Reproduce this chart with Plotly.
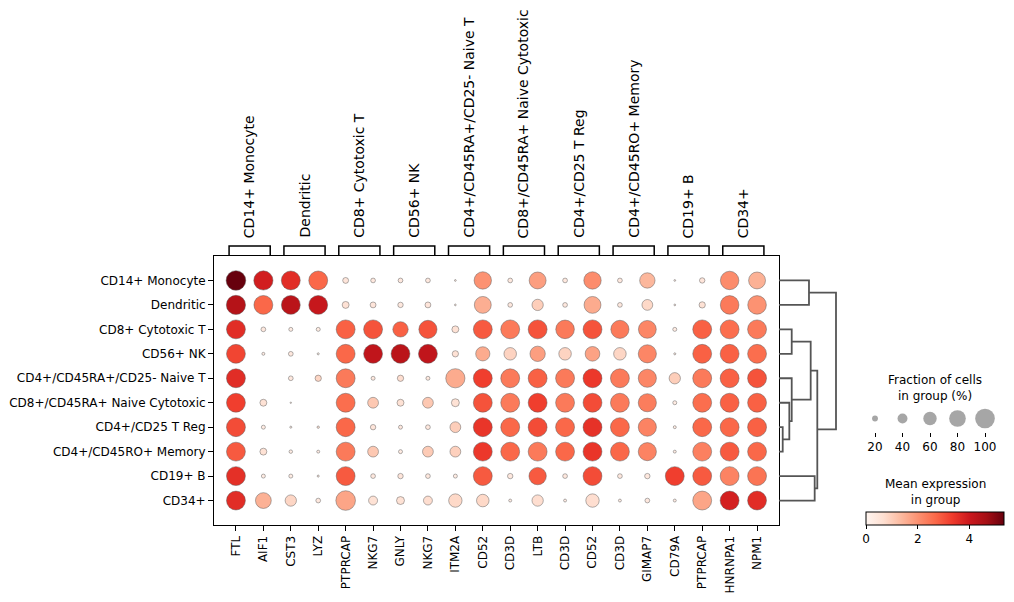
import plotly.graph_objects as go

W, H = 1014, 602

cell_types = ["CD14+ Monocyte", "Dendritic", "CD8+ Cytotoxic T", "CD56+ NK",
              "CD4+/CD45RA+/CD25- Naive T", "CD8+/CD45RA+ Naive Cytotoxic",
              "CD4+/CD25 T Reg", "CD4+/CD45RO+ Memory", "CD19+ B", "CD34+"]

genes = ["FTL", "AIF1", "CST3", "LYZ", "PTPRCAP", "NKG7", "GNLY", "NKG7", "ITM2A", "CD52",
         "CD3D", "LTB", "CD3D", "CD52", "CD3D", "GIMAP7", "CD79A", "PTPRCAP", "HNRNPA1", "NPM1"]

# marker gene groups (label, number of genes)
group_labels = cell_types
group_sizes = [2, 2, 2, 2, 2, 2, 2, 2, 2, 2]

# mean expression in group (rows = cell types, columns = genes)
expr_cd14_mono = [5.34, 3.9, 3.6, 2.7, 0.5, 0.4, 0.4, 0.4, 0.3, 2.0, 0.4, 1.8, 0.4, 2.1, 0.4, 1.4, 0.3, 0.5, 2.1, 1.5]
expr_dendritic = [4.4, 2.7, 4.3, 4.1, 0.6, 0.5, 0.4, 0.5, 0.3, 1.55, 0.4, 1.0, 0.4, 1.6, 0.4, 0.8, 0.3, 0.6, 2.4, 2.0]
expr_cd8_cyto = [3.6, 0.4, 0.3, 0.3, 2.8, 3.0, 2.8, 3.0, 0.6, 2.9, 2.4, 3.0, 2.4, 3.0, 2.4, 2.2, 0.3, 2.8, 2.6, 2.4]
expr_cd56_nk = [3.2, 0.3, 0.4, 0.2, 2.7, 4.2, 4.3, 4.2, 0.6, 1.6, 0.9, 1.8, 0.9, 1.75, 0.85, 2.2, 0.3, 2.8, 2.8, 2.6]
expr_cd4_naive = [3.6, 0.0, 0.4, 0.85, 2.4, 0.4, 0.7, 0.4, 1.6, 3.3, 2.4, 2.8, 2.4, 3.4, 2.4, 2.2, 1.0, 2.4, 2.8, 3.0]
expr_cd8_naive = [3.3, 0.6, 0.3, 0.0, 2.6, 1.1, 0.6, 1.1, 0.6, 3.0, 2.4, 3.3, 2.4, 3.1, 2.4, 2.35, 0.3, 2.6, 2.8, 2.8]
expr_treg = [3.1, 0.3, 0.3, 0.5, 2.7, 0.5, 0.4, 0.4, 1.0, 3.45, 2.7, 3.1, 2.7, 3.5, 2.7, 2.25, 0.3, 2.7, 2.7, 2.8]
expr_memory = [2.9, 0.6, 0.3, 0.3, 2.4, 1.1, 0.3, 1.05, 0.95, 3.4, 2.7, 2.4, 2.7, 3.45, 2.7, 2.25, 0.3, 2.3, 2.9, 2.7]
expr_cd19_b = [3.55, 0.3, 0.3, 0.3, 2.9, 0.4, 0.5, 0.4, 0.3, 2.9, 0.4, 2.9, 0.4, 3.1, 0.4, 0.4, 3.3, 2.9, 2.25, 2.5]
expr_cd34 = [3.6, 1.5, 0.85, 0.4, 1.7, 0.6, 0.6, 0.7, 0.8, 0.8, 0.3, 0.7, 0.3, 0.7, 0.3, 0.4, 0.3, 1.7, 3.85, 3.6]

# fraction of cells in group expressing the gene
frac_cd14_mono = [1.0, 0.97, 0.95, 0.95, 0.2, 0.15, 0.15, 0.15, 0.04, 0.85, 0.15, 0.82, 0.15, 0.85, 0.15, 0.72, 0.04, 0.18, 0.92, 0.82]
frac_dendritic = [0.97, 0.95, 0.95, 0.95, 0.25, 0.2, 0.18, 0.2, 0.04, 0.82, 0.15, 0.48, 0.15, 0.82, 0.15, 0.45, 0.04, 0.22, 0.93, 0.93]
frac_cd8_cyto = [0.95, 0.15, 0.12, 0.12, 0.95, 0.95, 0.72, 0.9, 0.25, 0.95, 0.95, 0.95, 0.93, 0.95, 0.9, 0.88, 0.12, 0.95, 0.95, 0.95]
frac_cd56_nk = [0.95, 0.08, 0.15, 0.05, 0.95, 0.95, 0.95, 0.95, 0.22, 0.65, 0.55, 0.72, 0.55, 0.68, 0.55, 0.9, 0.05, 0.95, 0.95, 0.95]
frac_cd4_naive = [0.95, 0.0, 0.15, 0.22, 0.95, 0.12, 0.22, 0.12, 0.97, 0.95, 0.95, 0.95, 0.95, 0.95, 0.95, 0.9, 0.48, 0.95, 0.95, 0.95]
frac_cd8_naive = [0.95, 0.25, 0.03, 0.0, 0.95, 0.45, 0.25, 0.45, 0.3, 0.95, 0.95, 0.95, 0.95, 0.95, 0.95, 0.9, 0.12, 0.95, 0.95, 0.95]
frac_treg = [0.95, 0.12, 0.05, 0.06, 0.95, 0.18, 0.12, 0.15, 0.45, 0.95, 0.95, 0.95, 0.95, 0.95, 0.95, 0.9, 0.08, 0.95, 0.95, 0.95]
frac_memory = [0.95, 0.25, 0.1, 0.08, 0.95, 0.45, 0.12, 0.45, 0.45, 0.95, 0.95, 0.95, 0.95, 0.95, 0.95, 0.9, 0.08, 0.95, 0.95, 0.95]
frac_cd19_b = [0.95, 0.12, 0.12, 0.05, 0.95, 0.15, 0.18, 0.15, 0.12, 0.95, 0.18, 0.85, 0.15, 0.95, 0.15, 0.18, 0.95, 0.95, 0.95, 0.95]
frac_cd34 = [0.95, 0.75, 0.48, 0.15, 1.0, 0.35, 0.3, 0.35, 0.6, 0.55, 0.08, 0.48, 0.08, 0.6, 0.08, 0.15, 0.08, 0.95, 0.95, 0.95]

expr_rows = [expr_cd14_mono, expr_dendritic, expr_cd8_cyto, expr_cd56_nk, expr_cd4_naive,
             expr_cd8_naive, expr_treg, expr_memory, expr_cd19_b, expr_cd34]
frac_rows = [frac_cd14_mono, frac_dendritic, frac_cd8_cyto, frac_cd56_nk, frac_cd4_naive,
             frac_cd8_naive, frac_treg, frac_memory, frac_cd19_b, frac_cd34]

# dendrogram linkage: (left node, right node, relative height); new nodes numbered from 10
linkage = [(6, 7, 0.065), (5, 10, 0.181), (4, 11, 0.223), (2, 3, 0.223), (0, 1, 0.526),
           (13, 12, 0.556), (8, 9, 0.626), (15, 16, 0.672), (14, 17, 1.0)]

legend_fracs = [20, 40, 60, 80, 100]
color_ticks = [0, 2, 4]
expr_max = 5.34

REDS = [[0.0, "#fff5f0"], [0.125, "#fee0d2"], [0.25, "#fcbba1"], [0.375, "#fc9272"],
        [0.5, "#fb6a4a"], [0.625, "#ef3b2c"], [0.75, "#cb181d"], [0.875, "#a50f15"],
        [1.0, "#67000d"]]
FONT = "DejaVu Sans"


def px(x):
    return x / W


def py(y):
    return 1 - y / H


def dot_diam(f):
    # scanpy: area = f**1.5 * 200 pt^2 -> diameter in px at 100 dpi
    return (f ** 1.5 * 200) ** 0.5 * 100 / 72


xs, ys, cs, ss = [], [], [], []
for r, (er, fr) in enumerate(zip(expr_rows, frac_rows)):
    for c, (e, f) in enumerate(zip(er, fr)):
        if f <= 0:
            continue
        xs.append(c)
        ys.append(r)
        cs.append(e)
        ss.append(dot_diam(f))

fig = go.Figure()
fig.add_trace(go.Scatter(
    x=xs, y=ys, mode="markers", showlegend=False, hoverinfo="skip",
    marker=dict(size=ss, sizemode="diameter", color=cs, colorscale=REDS,
                cmin=0, cmax=expr_max, opacity=1,
                line=dict(color="rgba(90,90,90,0.8)", width=0.6),
                showscale=True,
                colorbar=dict(orientation="h", x=px(935), xanchor="center",
                              len=138 / W, lenmode="fraction",
                              thickness=13, thicknessmode="pixels",
                              y=py(512), yanchor="top", xpad=0, ypad=0,
                              outlinewidth=1, outlinecolor="black",
                              tickvals=color_ticks, ticks="outside", ticklen=4,
                              tickcolor="black",
                              tickfont=dict(family=FONT, size=12, color="black"))),
    xaxis="x", yaxis="y"))

# dendrogram
pos = {i: (0.0, float(i)) for i in range(len(cell_types))}
dx, dy = [], []
for k, (a, b, h) in enumerate(linkage):
    ha, ya = pos[a]
    hb, yb = pos[b]
    dx += [ha, h, h, hb, None]
    dy += [ya, ya, yb, yb, None]
    pos[len(cell_types) + k] = (h, (ya + yb) / 2)
fig.add_trace(go.Scatter(x=dx, y=dy, mode="lines", showlegend=False, hoverinfo="skip",
                         line=dict(color="#555555", width=1.8),
                         xaxis="x2", yaxis="y2", cliponaxis=False))

# size legend
fig.add_trace(go.Scatter(x=list(range(len(legend_fracs))), y=[0] * len(legend_fracs),
                         mode="markers", showlegend=False, hoverinfo="skip",
                         marker=dict(size=[dot_diam(v / 100) for v in legend_fracs],
                                     color="#808080", line=dict(width=0)),
                         xaxis="x3", yaxis="y3", cliponaxis=False))

axis_common = dict(showgrid=False, zeroline=False, showline=True, linecolor="black",
                   linewidth=1, mirror=True, ticks="outside", ticklen=5, tickwidth=1,
                   tickcolor="black", tickfont=dict(family=FONT, size=12, color="black"))

fig.update_layout(
    width=W, height=H, plot_bgcolor="white", paper_bgcolor="white",
    margin=dict(l=0, r=0, t=0, b=0, autoexpand=False),
    font=dict(family=FONT, color="black"),
    xaxis=dict(domain=[px(214), px(779)], range=[-0.8, len(genes) - 1 + 0.8],
               tickvals=list(range(len(genes))), ticktext=genes, tickangle=-90,
               anchor="y", **axis_common),
    yaxis=dict(domain=[py(525), py(256)], range=[len(cell_types), -1],
               tickvals=list(range(len(cell_types))), ticktext=cell_types,
               anchor="x", **axis_common),
    xaxis2=dict(domain=[px(779), px(779 + 57 * 1.05)], range=[0, 1.05], visible=False,
                anchor="y2"),
    yaxis2=dict(domain=[py(525), py(256)], range=[len(cell_types), -1], visible=False,
                anchor="x2"),
    xaxis3=dict(domain=[px(861.25), px(998.75)], range=[-0.5, len(legend_fracs) - 0.5],
                tickvals=list(range(len(legend_fracs))), ticktext=[str(v) for v in legend_fracs],
                showgrid=False, zeroline=False, showline=False, ticks="outside",
                ticklen=4, tickwidth=1, tickcolor="black",
                tickfont=dict(family=FONT, size=12, color="black"), anchor="y3"),
    yaxis3=dict(domain=[py(431.5), py(405.5)], range=[-1, 1], visible=False, anchor="x3"),
)

# gene group brackets and labels
shapes, annotations = [], []
start = 0
for lab, n in zip(group_labels, group_sizes):
    end = start + n - 1
    x0, x1 = start - 0.25, end + 0.25
    shapes.append(dict(type="path", xref="x", yref="paper",
                       path=f"M {x0},{py(256)} L {x0},{py(246)} L {x1},{py(246)} L {x1},{py(256)}",
                       line=dict(color="black", width=1.5)))
    annotations.append(dict(text=lab, x=(start + end) / 2, xref="x", y=py(240), yref="paper",
                            xanchor="center", yanchor="bottom", textangle=-90, showarrow=False,
                            font=dict(family=FONT, size=14, color="black")))
    start = end + 1

annotations.append(dict(text="Fraction of cells<br>in group (%)", x=px(935), y=py(388),
                        xref="paper", yref="paper", xanchor="center", yanchor="middle",
                        showarrow=False, align="center",
                        font=dict(family=FONT, size=12, color="black")))
annotations.append(dict(text="Mean expression<br>in group", x=px(935), y=py(492),
                        xref="paper", yref="paper", xanchor="center", yanchor="middle",
                        showarrow=False, align="center",
                        font=dict(family=FONT, size=12, color="black")))

fig.update_layout(shapes=shapes, annotations=annotations)
fig.write_html("out.html", config={"displayModeBar": False},
               post_script="document.body.style.margin='0';document.body.style.overflow='hidden';")
